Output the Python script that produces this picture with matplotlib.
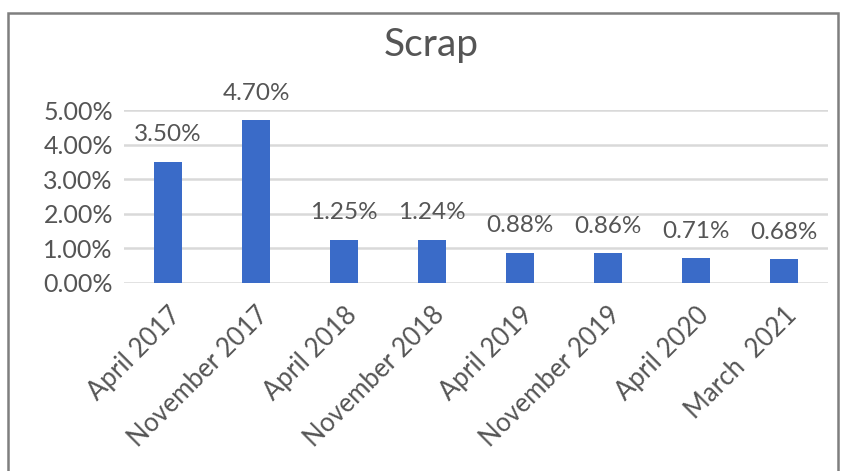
import matplotlib.pyplot as plt
from matplotlib.patches import Rectangle
from matplotlib.ticker import PercentFormatter

periods = ["April 2017", "November 2017", "April 2018", "November 2018",
           "April 2019", "November 2019", "April 2020", "March  2021"]
scrap = [3.50, 4.70, 1.25, 1.24, 0.88, 0.86, 0.71, 0.68]
yticks = [0, 1, 2, 3, 4, 5]

plt.rcParams['font.family'] = ['Lato', 'DejaVu Sans']
text_col = '#555555'

fig = plt.figure(figsize=(8.45, 4.71), dpi=100)
W, H = 845, 471

# chart frame
fig.patches.append(Rectangle((8 / W, -0.05), 830 / W, 1.05 - 13 / H,
                             transform=fig.transFigure, fill=False,
                             edgecolor='#7f7f7f', linewidth=1.8))

ax = fig.add_axes([124 / W, 1 - 283 / H, 704 / W, 173 / H])
x = range(len(periods))
ax.bar(x, scrap, width=0.32, color='#3a6bc8', zorder=3)
ax.set_xlim(-0.5, len(periods) - 0.5)
ax.set_ylim(0, 5)
ax.set_yticks(yticks)
ax.yaxis.set_major_formatter(PercentFormatter(decimals=2))
ax.grid(axis='y', color='#d9d9d9', linewidth=1.8, zorder=0)
for s in ax.spines.values():
    s.set_visible(False)
ax.tick_params(axis='y', length=0, labelsize=18, labelcolor=text_col, pad=8)
ax.tick_params(axis='x', length=0, labelsize=18.5, labelcolor=text_col, pad=14)
ax.set_xticks(list(x))
ax.set_xticklabels(periods, rotation=45, ha='right', rotation_mode='anchor')

for i, v in enumerate(scrap):
    ax.annotate(f"{v:.2f}%", (i, v), xytext=(0, 12), textcoords='offset points',
                ha='center', va='bottom', fontsize=17.5, color=text_col,
                annotation_clip=False)

fig.text(0.51, 1 - 45 / H, "Scrap", ha='center', va='center',
         fontsize=28, color=text_col)

fig.savefig('out.png', dpi=100)
